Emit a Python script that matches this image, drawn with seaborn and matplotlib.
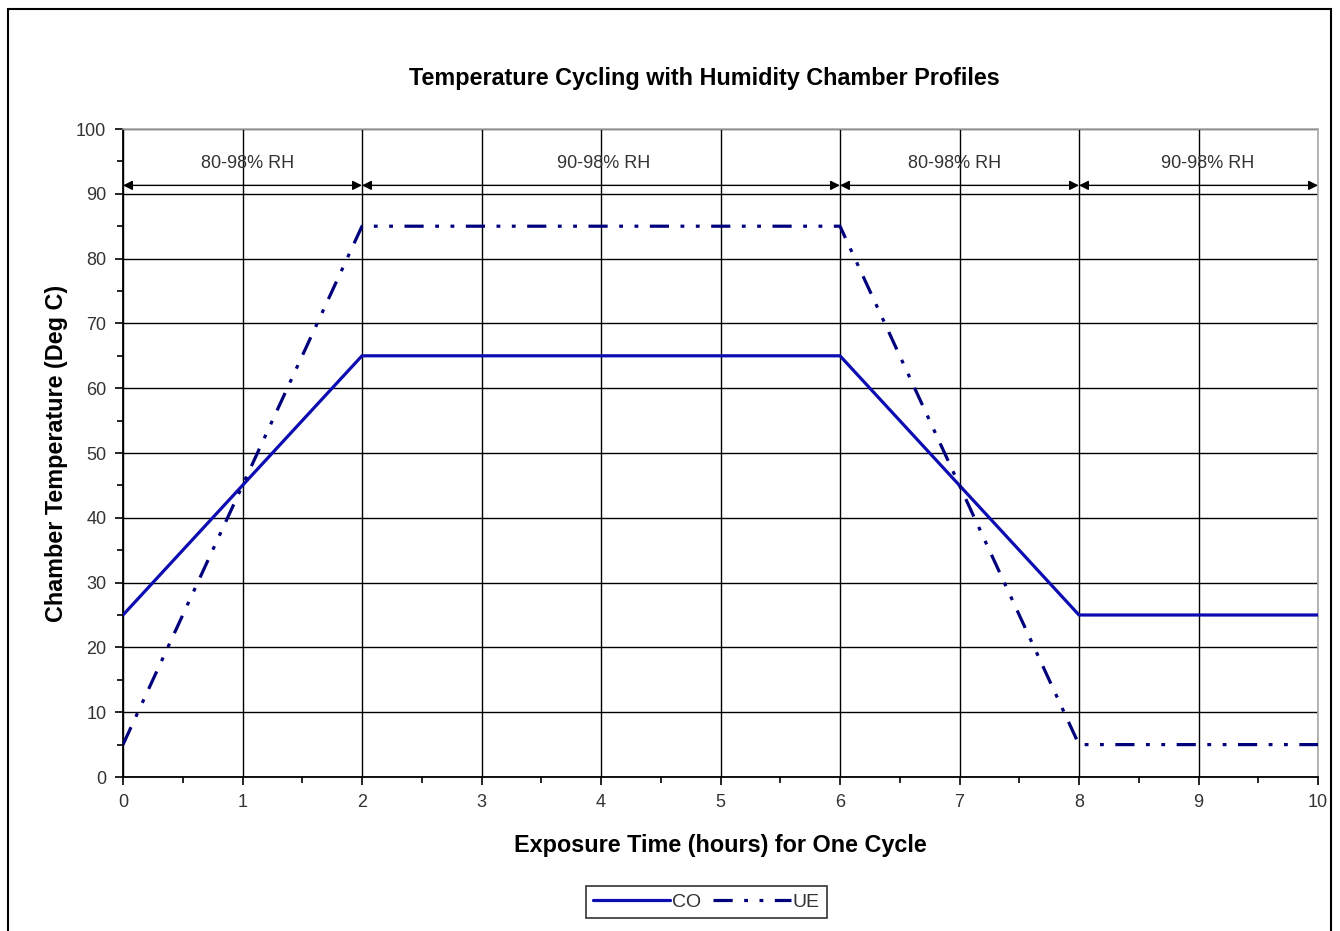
import matplotlib
matplotlib.use("Agg")
import matplotlib.pyplot as plt
import seaborn as sns
import pandas as pd
from matplotlib.patches import Rectangle
from matplotlib.ticker import MultipleLocator

# ---- data ----
hours = [0, 2, 6, 8, 10]
co_temp = [25, 65, 65, 25, 25]
ue_temp = [5, 85, 85, 5, 5]
series_names = ["CO", "UE"]

rh_starts = [0, 2, 6, 8]
rh_ends = [2, 6, 8, 10]
rh_labels = ["80-98% RH", "90-98% RH", "80-98% RH", "90-98% RH"]
rh_label_x = [1.04, 4.02, 6.96, 9.08]

title = "Temperature Cycling with Humidity Chamber Profiles"
xlabel = "Exposure Time (hours) for One Cycle"
ylabel = "Chamber Temperature (Deg C)"

df = pd.DataFrame({
    "hours": hours * 2,
    "temp": co_temp + ue_temp,
    "series": [series_names[0]] * len(hours) + [series_names[1]] * len(hours),
})

sns.set_style("white")
plt.rcParams["font.family"] = ["Liberation Sans", "DejaVu Sans"]

fig = plt.figure(figsize=(13.4, 9.31), dpi=100)
ax = fig.add_axes([123 / 1340, 1 - 777 / 931, (1318 - 123) / 1340, (777 - 129) / 931])

sns.lineplot(data=df, x="hours", y="temp", hue="series", style="series",
             palette={"CO": "#0c0cb0", "UE": "#00007c"},
             dashes={"CO": "", "UE": (6, 3.6, 1.2, 3.6, 1.2, 3.6)},
             linewidth=2.3, ax=ax, legend=True, zorder=3)

ax.set_xlim(0, 10)
ax.set_ylim(0, 100)
ax.xaxis.set_major_locator(MultipleLocator(1))
ax.xaxis.set_minor_locator(MultipleLocator(0.5))
ax.yaxis.set_major_locator(MultipleLocator(10))
ax.yaxis.set_minor_locator(MultipleLocator(5))
ax.grid(True, which="major", color="black", linewidth=1.0)
ax.set_axisbelow(True)
ax.tick_params(which="major", direction="out", length=6, width=1.2, color="black",
               labelsize=13, labelcolor="#333333", left=True, bottom=True, pad=6)
ax.tick_params(which="minor", direction="out", length=4, width=1.2, color="black",
               left=True, bottom=True)
for side in ["left", "bottom"]:
    ax.spines[side].set_color("black")
    ax.spines[side].set_linewidth(1.3)
for side in ["top", "right"]:
    ax.spines[side].set_color("#aaaaaa")
    ax.spines[side].set_linewidth(1.2)

# RH span arrows and labels
for s, e in zip(rh_starts, rh_ends):
    ax.annotate("", xy=(e, 91.3), xytext=(s, 91.3),
                arrowprops=dict(arrowstyle="<|-|>", color="black", lw=1.0,
                                shrinkA=0, shrinkB=0, mutation_scale=14),
                zorder=4)
for lx, lab in zip(rh_label_x, rh_labels):
    ax.text(lx, 94.6, lab, ha="center", va="center", fontsize=13, color="#333333")

ax.set_xlabel(xlabel, fontsize=16.8, fontweight="bold", color="black", labelpad=17)
ax.set_ylabel(ylabel, fontsize=16.8, fontweight="bold", color="black", labelpad=6)
fig.text(0.526, 1 - 78 / 931, title, ha="center", va="center", fontsize=16.8,
         fontweight="bold", color="black")

handles, labels = ax.get_legend_handles_labels()
ax.get_legend().remove()
leg = fig.legend(handles, labels, loc="center", bbox_to_anchor=(0.527, 1 - 902 / 931),
                 ncol=2, frameon=True, fancybox=False, edgecolor="black",
                 fontsize=14, handlelength=4.0, handletextpad=0.1, columnspacing=0.6,
                 borderpad=0.35, labelcolor="#333333")
leg.get_frame().set_linewidth(1.2)

# outer chart border
fig.patches.append(Rectangle((8 / 1340, -0.02), (1331 - 8) / 1340, 0.02 + 1 - 9 / 931,
                             transform=fig.transFigure, fill=False, edgecolor="black",
                             linewidth=1.5))

fig.savefig("out.png", dpi=100)
